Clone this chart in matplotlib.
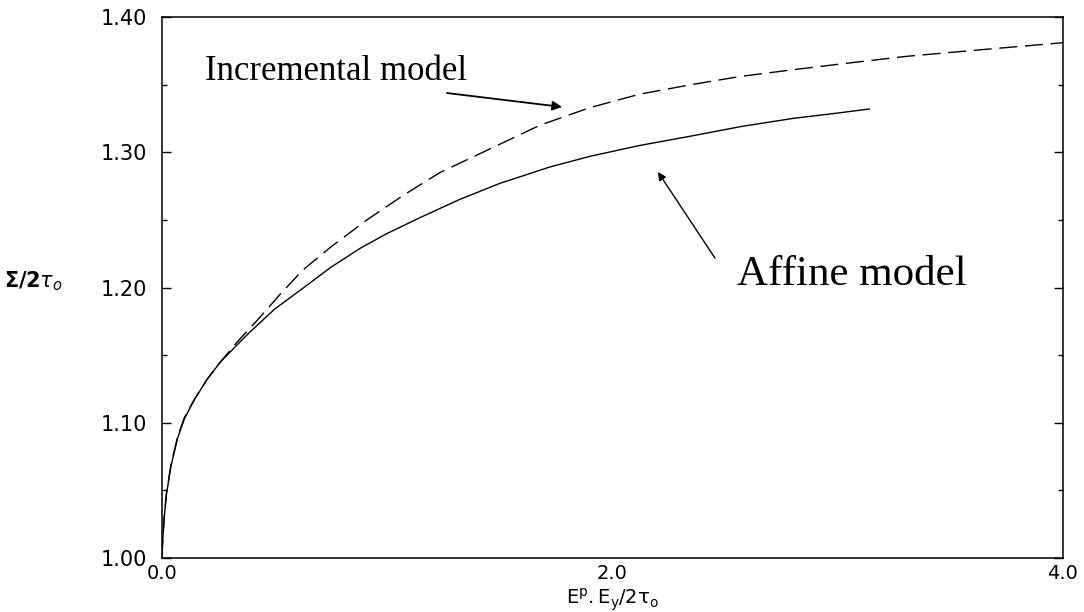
import matplotlib
matplotlib.use("Agg")
import matplotlib.pyplot as plt
from matplotlib.ticker import MultipleLocator, FixedLocator

# Affine model (solid)
affine_x = [0.0, 0.003, 0.01, 0.02, 0.04, 0.07, 0.10, 0.14, 0.20, 0.26, 0.33, 0.39, 0.50,
            0.63, 0.75, 0.88, 1.00, 1.15, 1.32, 1.50, 1.72, 1.90, 2.12, 2.35, 2.57, 2.80,
            3.00, 3.14]
affine_y = [1.000, 1.012, 1.030, 1.047, 1.068, 1.089, 1.103, 1.116, 1.132, 1.145, 1.157,
            1.167, 1.184, 1.200, 1.215, 1.229, 1.240, 1.252, 1.265, 1.277, 1.289, 1.297,
            1.305, 1.312, 1.319, 1.325, 1.329, 1.332]

# Incremental model (dashed)
incr_x = [0.0, 0.003, 0.01, 0.02, 0.04, 0.07, 0.10, 0.15, 0.20, 0.24, 0.33, 0.435, 0.53,
          0.626, 0.75, 0.91, 1.07, 1.234, 1.45, 1.678, 1.90, 2.122, 2.35, 2.566, 2.80,
          3.05, 3.31, 3.65, 4.00]
incr_y = [1.000, 1.012, 1.030, 1.048, 1.069, 1.090, 1.104, 1.119, 1.132, 1.141, 1.159,
          1.178, 1.196, 1.213, 1.230, 1.250, 1.268, 1.285, 1.302, 1.320, 1.333, 1.343,
          1.350, 1.356, 1.361, 1.366, 1.371, 1.376, 1.381]

xticks = [0.0, 2.0, 4.0]
xticklabels = ["0.0", "2.0", "4.0"]
yticks = [1.00, 1.10, 1.20, 1.30, 1.40]
yticklabels = ["1.00", "1.10", "1.20", "1.30", "1.40"]

fig = plt.figure(figsize=(10.84, 6.12), dpi=100)
ax = fig.add_axes([0.1494, 0.0882, 0.8312, 0.8840])

ax.plot(affine_x, affine_y, color="black", lw=1.0, solid_joinstyle="round")
ax.plot(incr_x, incr_y, color="black", lw=1.0, linestyle=(0, (13, 5.5)))

ax.set_xlim(0, 4.0)
ax.set_ylim(1.00, 1.40)

ax.yaxis.set_major_locator(FixedLocator(yticks))
ax.yaxis.set_minor_locator(MultipleLocator(0.05))
ax.set_yticklabels(yticklabels)
ax.xaxis.set_major_locator(FixedLocator(xticks))
ax.set_xticklabels(xticklabels)

ax.tick_params(axis="y", which="major", direction="in", length=6.5, width=1.0,
               left=True, right=True, labelsize=15, pad=11)
ax.tick_params(axis="y", which="minor", direction="in", length=3.6, width=1.0,
               left=True, right=True)
ax.tick_params(axis="x", which="major", direction="in", length=0, labelsize=14, pad=4)
for lab in ax.get_xticklabels() + ax.get_yticklabels():
    lab.set_fontfamily("DejaVu Sans")

for s in ax.spines.values():
    s.set_linewidth(1.1)

ax.set_xlabel(r"$\mathregular{E^{p}.E_{y}/2\tau_{o}}$", fontsize=14)
ax.xaxis.set_label_coords(0.5, -0.053)
ax.set_ylabel(r"$\boldsymbol{\Sigma/2\tau_o}$", fontsize=15, rotation=0)
ax.yaxis.set_label_coords(-0.143, 0.49)

ax.text(0.19, 1.3534, "Incremental model", fontfamily="Liberation Serif", fontsize=25,
        ha="left", va="baseline")
ax.text(2.553, 1.2018, "Affine model", fontfamily="Liberation Serif", fontsize=31,
        ha="left", va="baseline")

ax.annotate("", xy=(1.776, 1.3335), xytext=(1.265, 1.3438),
            arrowprops=dict(arrowstyle="-|>", color="black", lw=1.3,
                            mutation_scale=14, shrinkA=0, shrinkB=0))
ax.annotate("", xy=(2.202, 1.2854), xytext=(2.455, 1.2218),
            arrowprops=dict(arrowstyle="-|>", color="black", lw=1.0,
                            mutation_scale=12, shrinkA=0, shrinkB=0))

fig.savefig("out.png", dpi=100)
